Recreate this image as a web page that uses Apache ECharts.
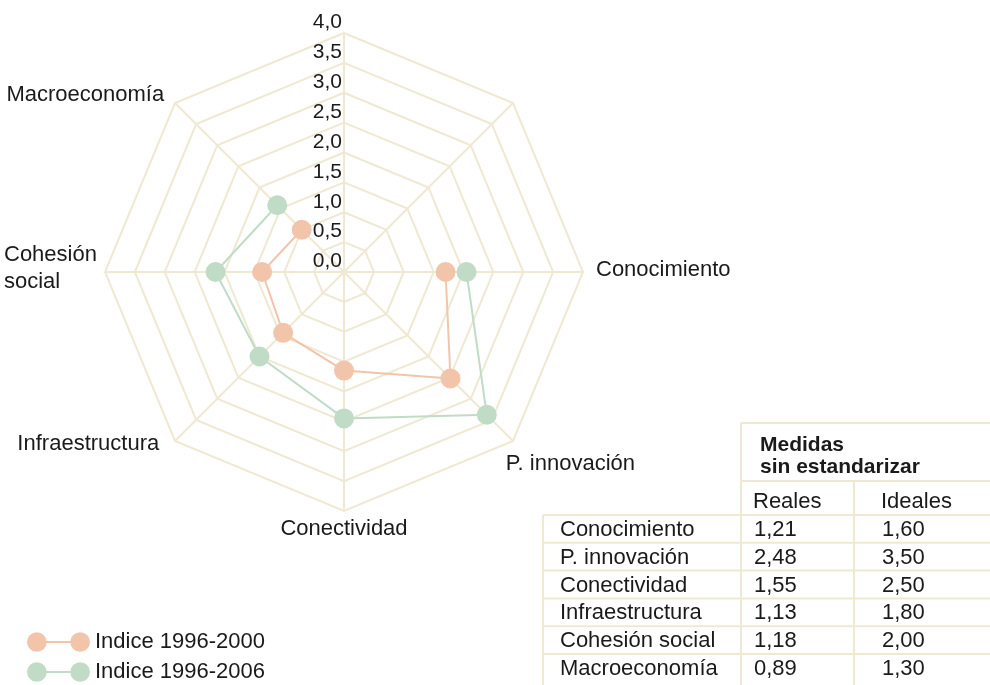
<!DOCTYPE html>
<html>
<head>
<meta charset="utf-8">
<script src="https://cdn.jsdelivr.net/npm/echarts@6/dist/echarts.min.js"></script>
<style>
  html, body { margin: 0; padding: 0; background: #fff; }
  #chart { width: 990px; height: 685px; }
</style>
</head>
<body>
<div id="chart"></div>
<script>
// ejes del radar (los dos primeros van sin nombre ni datos)
const ejes = ['', '', 'Conocimiento', 'P. innovación', 'Conectividad', 'Infraestructura', 'Cohesión social', 'Macroeconomía'];
const indice2000 = [null, null, 1.70, 2.52, 1.65, 1.44, 1.37, 1.00];
const indice2006 = [null, null, 2.05, 3.38, 2.45, 2.00, 2.15, 1.58];
const nombresSeries = ['Indice 1996-2000', 'Indice 1996-2006'];
const escalaMin = 0;
const escalaMax = 4;
const escalaPaso = 0.5;

// tabla de medidas sin estandarizar
const filasTabla = ['Conocimiento', 'P. innovación', 'Conectividad', 'Infraestructura', 'Cohesión social', 'Macroeconomía'];
const columnasTabla = ['Reales', 'Ideales'];
const reales = [1.21, 2.48, 1.55, 1.13, 1.18, 0.89];
const ideales = [1.60, 3.50, 2.50, 1.80, 2.00, 1.30];

const FONT = '"Liberation Sans", Arial, sans-serif';
const TXT = '#1a1a1a';
const REJILLA = '#efe9d4';
const NARANJA = '#f2c5aa';
const VERDE = '#c0dcc7';
const CENTRO = [344, 272];
const RADIO = 239;

const coma = (v, d) => v.toFixed(d).replace('.', ',');

// ajuste de la posición de cada nombre de eje [arriba, derecha, abajo, izquierda]
const padNombres = {
  'Conocimiento': [0, 0, 4, 43],
  'P. innovación': [33, 0, 0, 14],
  'Conectividad': [37, 0, 0, 0],
  'Infraestructura': [13, 37, 0, 0],
  'Cohesión social': [0, 36, 7, 0],
  'Macroeconomía': [0, 32, 18, 0]
};

// tabla dibujada con graphic
function tablaGraphic() {
  const els = [];
  const linea = (x1, y1, x2, y2) => els.push({
    type: 'line', silent: true,
    shape: { x1, y1, x2, y2 },
    style: { stroke: REJILLA, lineWidth: 2 }
  });
  const texto = (t, x, y, bold) => els.push({
    type: 'text', silent: true, x, y,
    style: {
      text: t, fill: TXT, fontFamily: FONT,
      fontSize: bold ? 21 : 22, fontWeight: bold ? 'bold' : 'normal',
      verticalAlign: 'middle'
    }
  });
  const top0 = 515, alto = 27.8;
  linea(741, 423, 990, 423);
  linea(741, 423, 741, 685);
  linea(741, 481, 990, 481);
  linea(854, 481, 854, 685);
  linea(543, top0, 543, 685);
  texto('Medidas', 760, 445, true);
  texto('sin estandarizar', 760, 467, true);
  texto(columnasTabla[0], 753, 502);
  texto(columnasTabla[1], 881, 502);
  filasTabla.forEach((f, i) => {
    const y = top0 + alto * i;
    linea(543, y, 990, y);
    texto(f, 560, y + alto / 2 + 1, false);
    texto(coma(reales[i], 2), 754, y + alto / 2 + 1, false);
    texto(coma(ideales[i], 2), 882, y + alto / 2 + 1, false);
  });
  return els;
}

const iconoLeyenda = 'path://M0,10A10,10,0,1,1,20,10A10,10,0,1,1,0,10ZM44,10A10,10,0,1,1,64,10A10,10,0,1,1,44,10ZM18,9L46,9L46,11L18,11Z';

var myChart = echarts.init(document.getElementById('chart'));
myChart.setOption({
  animation: false,
  textStyle: { fontFamily: FONT },
  radar: {
    center: CENTRO,
    radius: RADIO,
    shape: 'polygon',
    splitNumber: 8,
    startAngle: 90,
    indicator: ejes.map(() => ({ name: '', min: escalaMin, max: escalaMax })),
    axisName: { show: false },
    axisLine: { lineStyle: { color: REJILLA, width: 2 } },
    splitLine: { lineStyle: { color: REJILLA, width: 2 } },
    splitArea: { show: false },
    z: 0
  },
  polar: { center: CENTRO, radius: RADIO },
  angleAxis: {
    type: 'category',
    data: ejes.map(e => ({ value: e, textStyle: { padding: padNombres[e] || 0 } })),
    boundaryGap: false,
    startAngle: 90,
    clockwise: true,
    axisLine: { show: false },
    axisTick: { show: false },
    splitLine: { show: false },
    axisLabel: {
      margin: -30,
      fontSize: 22,
      color: TXT,
      formatter: v => v === 'Cohesión social' ? '{l|Cohesión}\n{l|social}' : v,
      rich: {
        l: { width: 95, align: 'left', fontSize: 22, lineHeight: 27, color: TXT, fontFamily: FONT }
      }
    }
  },
  radiusAxis: {
    type: 'value',
    min: escalaMin,
    max: escalaMax,
    interval: escalaPaso,
    axisLine: { show: false },
    axisTick: { show: false },
    splitLine: { show: false },
    axisLabel: {
      fontSize: 21,
      color: TXT,
      margin: 2,
      verticalAlign: 'bottom',
      formatter: v => coma(v, 1)
    },
    z: 5
  },
  legend: {
    left: 27,
    top: 631,
    padding: 0,
    orient: 'vertical',
    itemWidth: 63,
    itemHeight: 20,
    itemGap: 8,
    textStyle: { fontSize: 22, color: TXT, fontFamily: FONT },
    data: nombresSeries.map(n => ({ name: n, icon: iconoLeyenda }))
  },
  series: [
    {
      name: nombresSeries[0],
      type: 'line',
      coordinateSystem: 'polar',
      data: indice2000,
      symbol: 'circle',
      symbolSize: 20,
      connectNulls: false,
      lineStyle: { color: NARANJA, width: 2 },
      itemStyle: { color: NARANJA },
      z: 3
    },
    {
      name: nombresSeries[1],
      type: 'line',
      coordinateSystem: 'polar',
      data: indice2006,
      symbol: 'circle',
      symbolSize: 20,
      connectNulls: false,
      lineStyle: { color: VERDE, width: 2 },
      itemStyle: { color: VERDE },
      z: 4
    }
  ],
  graphic: { elements: tablaGraphic() }
});
</script>
</body>
</html>
